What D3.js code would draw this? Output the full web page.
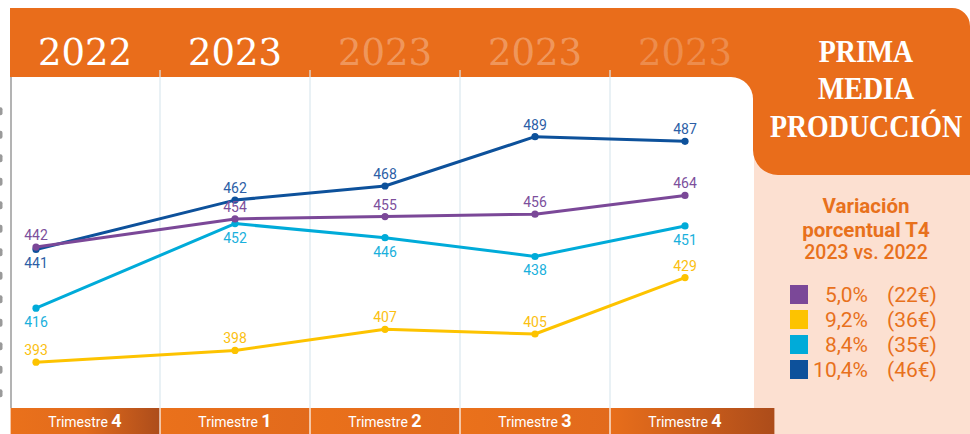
<!DOCTYPE html>
<html>
<head>
<meta charset="utf-8">
<script src="https://cdnjs.cloudflare.com/ajax/libs/d3/7.8.5/d3.min.js"></script>
<style>
  body { margin: 0; background: #fff; }
  svg { display: block; }
</style>
</head>
<body>
<div id="chart"></div>
<script>
// datos
var quarters = ["T4 2022", "T1 2023", "T2 2023", "T3 2023", "T4 2023"];
var quarterNum = ["4", "1", "2", "3", "4"];
var years = ["2022", "2023", "2023", "2023", "2023"];
var yTicks = [380, 390, 400, 410, 420, 430, 440, 450, 460, 470, 480, 490, 500];

var morado = [442, 454, 455, 456, 464];
var amarillo = [393, 398, 407, 405, 429];
var celeste = [416, 452, 446, 438, 451];
var azul = [441, 462, 468, 489, 487];

var legendPct = ["5,0%", "9,2%", "8,4%", "10,4%"];
var legendEur = ["(22€)", "(36€)", "(35€)", "(46€)"];

var w = 970, h = 434;
var orange = "#e96d1b";
var peach = "#fce0d1";

var series = [
  { name: "amarillo", values: amarillo, color: "#fdc300", label: "#fbbf12" },
  { name: "celeste", values: celeste, color: "#00abd9", label: "#19b0dc" },
  { name: "azul", values: azul, color: "#0d519b", label: "#2c5ea6" },
  { name: "morado", values: morado, color: "#7b4898", label: "#7c4f9c" }
];
var legendColors = ["#7b4898", "#fdc300", "#00abd9", "#0d519b"];

var svg = d3.select("#chart").append("svg")
  .attr("width", w)
  .attr("height", h);

var x = d3.scaleBand().domain(quarters).range([10, 760]);
var y = d3.scaleLinear().domain([373.5, 514.4]).range([408, 77]);

function px(i) {
  // el primer punto va pegado al eje
  if (i === 0) return x(quarters[0]) + 26;
  return x(quarters[i]) + x.bandwidth() / 2;
}

// gradientes de la barra inferior
var defs = svg.append("defs");
function grad(id, stops) {
  var g = defs.append("linearGradient").attr("id", id);
  stops.forEach(function(s) {
    g.append("stop").attr("offset", s[0]).attr("stop-color", s[1]);
  });
}
grad("gEdge", [["0%", "#ea711b"], ["50%", "#e26b1c"], ["100%", "#ad4d1b"]]);
grad("gMid", [["0%", "#ea711b"], ["100%", "#e26a1c"]]);
grad("gLast", [["0%", "#e86e1b"], ["55%", "#c95c1b"], ["100%", "#ac4c1a"]]);

// panel melocoton
svg.append("path")
  .attr("d", "M754,140 H970 V434 H770 A16,16 0 0 1 754,418 Z")
  .attr("fill", peach);

// cabecera naranja
svg.append("path")
  .attr("d", "M10,8 H952 A18,18 0 0 1 970,26 V175 H778 A25,25 0 0 1 753,150 V100 H10 Z")
  .attr("fill", orange);

// zona blanca del grafico
svg.append("path")
  .attr("d", "M10,77 H731 A22,22 0 0 1 753,99 V408 H10 Z")
  .attr("fill", "#fff");

// lineas verticales
svg.selectAll("line.grid")
  .data(quarters.slice(1))
  .enter()
  .append("line")
  .attr("class", "grid")
  .attr("x1", function(d) { return x(d); })
  .attr("x2", function(d) { return x(d); })
  .attr("y1", 70)
  .attr("y2", 408)
  .attr("stroke", "#dbe8ee")
  .attr("stroke-width", 1.2);

// eje y: solo se ven las marcas cortadas en el borde
var yAxis = svg.append("g")
  .attr("transform", "translate(11,0)")
  .call(d3.axisLeft(y).tickValues(yTicks).tickSize(0).tickFormat(""));
yAxis.select(".domain")
  .attr("stroke", "#8a8a8a")
  .attr("stroke-width", 1.3)
  .attr("d", "M0," + y.range()[1] + "V" + y.range()[0]);
yAxis.selectAll(".tick text").remove();
yAxis.selectAll(".tick").append("rect")
  .attr("x", -13)
  .attr("y", -4)
  .attr("width", 4.5)
  .attr("height", 8)
  .attr("rx", 2)
  .attr("fill", "#9a9a9a");

// anios en la cabecera
svg.selectAll("text.year")
  .data(years)
  .enter()
  .append("text")
  .attr("class", "year")
  .attr("x", function(d, i) { return x(quarters[i]) + x.bandwidth() / 2; })
  .attr("y", 65)
  .attr("text-anchor", "middle")
  .attr("fill", "#fff")
  .attr("fill-opacity", function(d, i) { return i < 2 ? 1 : (i < 4 ? 0.3 : 0.22); })
  .style("font-family", "'DejaVu Serif', serif")
  .style("font-size", "37px")
  .text(function(d) { return d; });

// barra de trimestres
svg.selectAll("rect.tri")
  .data(quarters)
  .enter()
  .append("rect")
  .attr("class", "tri")
  .attr("x", function(d) { return x(d) + 0.6; })
  .attr("y", 408)
  .attr("width", function(d, i) { return x.bandwidth() - 1.2 + (i === 4 ? 15 : 0); })
  .attr("height", 26)
  .attr("fill", function(d, i) {
    if (i === 0) return "url(#gEdge)";
    if (i === 4) return "url(#gLast)";
    return "url(#gMid)";
  });

var triText = svg.selectAll("text.tri")
  .data(quarters)
  .enter()
  .append("text")
  .attr("class", "tri")
  .attr("x", function(d) { return x(d) + x.bandwidth() / 2; })
  .attr("y", 427)
  .attr("text-anchor", "middle")
  .attr("fill", "#fff")
  .style("font-family", "Roboto, sans-serif");
triText.append("tspan")
  .style("font-size", "14px")
  .text("Trimestre ");
triText.append("tspan")
  .style("font-size", "18px")
  .style("font-weight", "bold")
  .text(function(d, i) { return quarterNum[i]; });

// lineas
var line = d3.line()
  .x(function(d, i) { return px(i); })
  .y(function(d) { return y(d); });

var sg = svg.selectAll("g.serie")
  .data(series)
  .enter()
  .append("g")
  .attr("class", "serie");

sg.append("path")
  .attr("d", function(s) { return line(s.values); })
  .attr("fill", "none")
  .attr("stroke", function(s) { return s.color; })
  .attr("stroke-width", 3)
  .attr("stroke-linejoin", "round");

sg.selectAll("circle")
  .data(function(s) { return s.values.map(function(v) { return { v: v, s: s }; }); })
  .enter()
  .append("circle")
  .attr("cx", function(d, i) { return px(i); })
  .attr("cy", function(d) { return y(d.v); })
  .attr("r", 3.6)
  .attr("fill", function(d) { return d.s.color; });

function below(s, i) {
  if (s.name === "celeste") return true;
  if (s.name === "azul") return s.values[i] < morado[i];
  return false;
}

sg.selectAll("text")
  .data(function(s) { return s.values.map(function(v) { return { v: v, s: s }; }); })
  .enter()
  .append("text")
  .attr("x", function(d, i) { return px(i); })
  .attr("y", function(d, i) { return y(d.v) + (below(d.s, i) ? 19 : -7); })
  .attr("text-anchor", "middle")
  .attr("fill", function(d) { return d.s.label; })
  .style("font-family", "Roboto, sans-serif")
  .style("font-size", "14px")
  .text(function(d) { return d.v; });

// titulo
var title = svg.append("g")
  .attr("transform", "translate(866,0) scale(0.9,1)");
title.selectAll("text")
  .data(["PRIMA", "MEDIA", "PRODUCCIÓN"])
  .enter()
  .append("text")
  .attr("x", 0)
  .attr("y", function(d, i) { return 62 + i * 37.5; })
  .attr("text-anchor", "middle")
  .attr("fill", "#fff")
  .style("font-family", "'Liberation Serif', serif")
  .style("font-weight", "bold")
  .style("font-size", "31px")
  .text(function(d) { return d; });

// leyenda
var lg = svg.append("g");
lg.selectAll("text.lt")
  .data(["Variación", "porcentual T4", "2023 vs. 2022"])
  .enter()
  .append("text")
  .attr("class", "lt")
  .attr("x", 866)
  .attr("y", function(d, i) { return [213, 237, 259][i]; })
  .attr("text-anchor", "middle")
  .attr("fill", "#e8711c")
  .style("font-family", "Roboto, sans-serif")
  .style("font-weight", function(d, i) { return i < 2 ? "bold" : 500; })
  .style("font-size", function(d, i) { return i < 2 ? "20.5px" : "19.5px"; })
  .text(function(d) { return d; });

lg.selectAll("rect")
  .data(legendColors)
  .enter()
  .append("rect")
  .attr("x", 790)
  .attr("y", function(d, i) { return 285 + i * 25; })
  .attr("width", 18)
  .attr("height", 19)
  .attr("fill", function(d) { return d; });

lg.selectAll("text.pct")
  .data(legendPct)
  .enter()
  .append("text")
  .attr("class", "pct")
  .attr("x", 868)
  .attr("y", function(d, i) { return 302 + i * 25; })
  .attr("text-anchor", "end")
  .attr("fill", "#e8711c")
  .style("font-family", "Roboto, sans-serif")
  .style("font-size", "21px")
  .text(function(d) { return d; });

lg.selectAll("text.eur")
  .data(legendEur)
  .enter()
  .append("text")
  .attr("class", "eur")
  .attr("x", 887)
  .attr("y", function(d, i) { return 302 + i * 25; })
  .attr("fill", "#e8711c")
  .style("font-family", "Roboto, sans-serif")
  .style("font-size", "21px")
  .text(function(d) { return d; });
</script>
</body>
</html>
